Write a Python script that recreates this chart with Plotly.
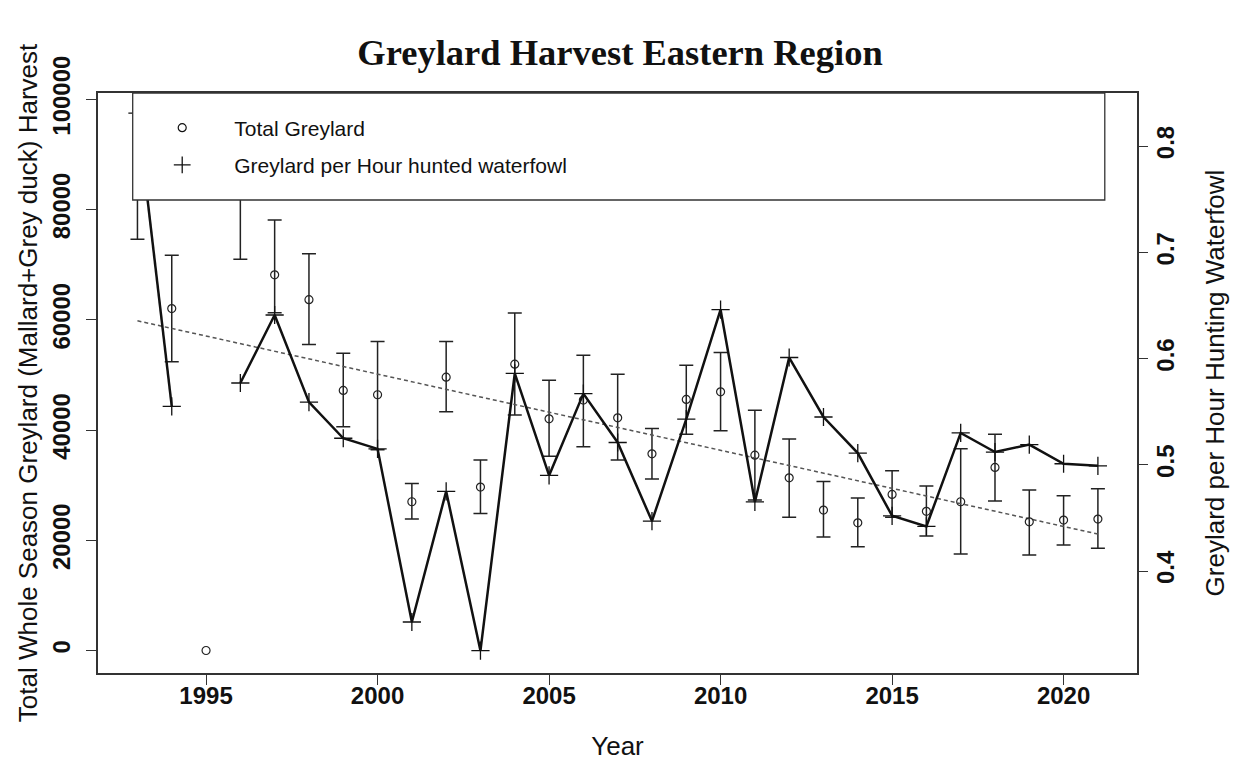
import plotly.graph_objects as go

# ---------------- data ----------------
years = list(range(1993, 2022))

total_greylard = [88000, 62020, 0, 84000, 68150, 63640, 47170, 46390, 26980, 49590,
                  29640, 51940, 42030, 45420, 42210, 35680, 45540, 46920, 35440, 31330,
                  25470, 23170, 28320, 25240, 26980, 33210, 23350, 23660, 23840]

total_upper = [101500, 71690, None, 97000, 78090, 71960, 53900, 56060, 30310, 56060,
               34540, 61240, 49040, 53570, 50130, 40280, 51760, 54060, 43600, 38350,
               30680, 27650, 32600, 29820, 36590, 39250, 29100, 28070, 29330]

total_lower = [74600, 52380, None, 70980, 61260, 55500, 40570, 36400, 23840, 43290,
               24870, 42700, 35260, 36950, 34540, 31090, 39250, 39850, 27290, 24150,
               20580, 18820, 24150, 20760, 17500, 27100, 17310, 19130, 18530]

per_hour = [0.831, 0.555, None, 0.577, 0.641, 0.559, 0.525, 0.515, 0.352, 0.475,
            0.325, 0.586, 0.490, 0.567, 0.521, 0.447, 0.543, 0.646, 0.465, 0.601,
            0.545, 0.511, 0.452, 0.442, 0.530, 0.512, 0.519, 0.501, 0.499]

trend_years = [1993, 2021]
trend_values = [59810, 21120]

x_ticks = [1995, 2000, 2005, 2010, 2015, 2020]
y_ticks = [0, 20000, 40000, 60000, 80000, 100000]
y2_ticks = [0.4, 0.5, 0.6, 0.7, 0.8]

# ---------------- figure ----------------
FONT = "Liberation Sans"
AX = "#333333"

fig = go.Figure()

# error bars (years with a bar)
eb_x = [y for y, u in zip(years, total_upper) if u is not None]
eb_v = [v for v, u in zip(total_greylard, total_upper) if u is not None]
eb_up = [u - v for v, u in zip(total_greylard, total_upper) if u is not None]
eb_dn = [v - l for v, l in zip(total_greylard, total_lower) if l is not None]

fig.add_trace(go.Scatter(
    x=eb_x, y=eb_v, mode="markers",
    marker=dict(size=1, color="rgba(0,0,0,0)"),
    error_y=dict(type="data", symmetric=False, array=eb_up, arrayminus=eb_dn,
                 color="#222222", thickness=1.5, width=7),
    showlegend=False, hoverinfo="skip"))

# trend line
fig.add_trace(go.Scatter(
    x=trend_years, y=trend_values, mode="lines",
    line=dict(color="#555555", width=1.5, dash="4px,3px"),
    showlegend=False, hoverinfo="skip"))

# total greylard circles
fig.add_trace(go.Scatter(
    x=years, y=total_greylard, mode="markers",
    marker=dict(symbol="circle-open", size=8, color="#222222", line=dict(width=1.2)),
    showlegend=False))

# per hour line (right axis)
fig.add_trace(go.Scatter(
    x=years, y=per_hour, mode="lines+markers", yaxis="y2",
    line=dict(color="#111111", width=2.5),
    marker=dict(symbol="cross-thin-open", size=13, color="#111111", line=dict(width=1.3, color="#111111")),
    connectgaps=False, showlegend=False))

# legend-only entries
fig.add_trace(go.Scatter(
    x=[None], y=[None], mode="markers", name="Total Greylard", legendgroup="a",
    marker=dict(symbol="circle-open", size=8, color="#111111", line=dict(width=1.2))))
fig.add_trace(go.Scatter(
    x=[None], y=[None], mode="markers", name="Greylard per Hour hunted waterfowl", legendgroup="b",
    marker=dict(symbol="cross-thin-open", size=12, color="#111111", line=dict(width=1.3, color="#111111"))))

# legend box
fig.add_shape(type="rect", xref="x domain", yref="y domain",
              x0=0.0334, x1=0.969, y0=0.8155, y1=1.0,
              fillcolor="white", line=dict(color=AX, width=1.3), layer="above")

fig.update_layout(
    width=1230, height=760,
    margin=dict(l=90, r=101, t=85, b=95, autoexpand=False),
    paper_bgcolor="white", plot_bgcolor="white",
    font=dict(family=FONT, color="#111111"),
    title=dict(text="<b>Greylard Harvest Eastern Region</b>",
               font=dict(family="Liberation Serif", size=36.5, color="#111111"),
               x=612 / 1230, xref="container", xanchor="center",
               y=1 - 44 / 760, yref="container", yanchor="middle"),
    legend=dict(x=0.031, y=0.975, xanchor="left", yanchor="top",
                bgcolor="rgba(0,0,0,0)", borderwidth=0,
                font=dict(family=FONT, size=21, color="#111111"),
                itemwidth=94, tracegroupgap=7, traceorder="grouped"),
    xaxis=dict(range=[1991.85, 2022.14], tickvals=x_ticks, ticks="outside", ticklen=10,
               tickwidth=1.3, tickcolor=AX, showline=True, linecolor=AX, linewidth=1.5,
               mirror=True, showgrid=False, zeroline=False, automargin=False,
               ticklabelstandoff=-10,
               tickfont=dict(family=FONT, size=24, weight="bold", color="#111111"),
               title=dict(text="Year", font=dict(family=FONT, size=26, color="#111111"), standoff=29)),
    yaxis=dict(range=[-4080, 101130], tickvals=y_ticks, tickformat="d", ticks="outside",
               ticklen=10, tickwidth=1.3, tickcolor=AX, showline=True, linecolor=AX,
               linewidth=1.5, mirror=True, showgrid=False, zeroline=False, tickangle=-90,
               automargin=False, ticklabelstandoff=7,
               tickfont=dict(family=FONT, size=24, weight="bold", color="#111111"),
               title=dict(text="Total Whole Season Greylard (Mallard+Grey duck) Harvest",
                          font=dict(family=FONT, size=26, color="#111111"), standoff=3)),
    yaxis2=dict(range=[0.304, 0.850], tickvals=y2_ticks, tickformat=".1f", overlaying="y",
                side="right", ticks="outside", ticklen=10, tickwidth=1.3, tickcolor=AX,
                showline=False, showgrid=False, zeroline=False, tickangle=-90,
                automargin=False, ticklabelstandoff=-3,
                tickfont=dict(family=FONT, size=24, weight="bold", color="#111111"),
                title=dict(text="Greylard per Hour Hunting Waterfowl",
                           font=dict(family=FONT, size=26, color="#111111"), standoff=28)),
)

fig.write_html("out.html")
